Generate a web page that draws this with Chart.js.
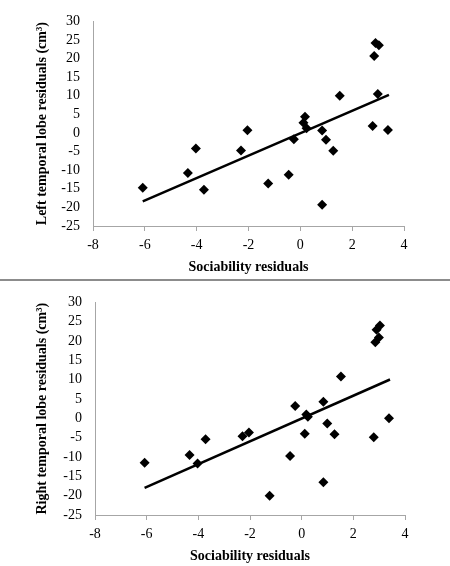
<!DOCTYPE html>
<html>
<head>
<meta charset="utf-8">
<script src="https://cdn.jsdelivr.net/npm/chart.js@4.4.1/dist/chart.umd.min.js"></script>
<style>
    html, body { margin: 0; padding: 0; background: #fff; }
    body { width: 450px; height: 566px; overflow: hidden; }
    .panel { position: relative; width: 450px; }
    .separator { width: 450px; height: 2px; background: #8c8c8c; }
    canvas { display: block; }
</style>
</head>
<body>
<div class="panel"><canvas id="leftChart" width="450" height="279"></canvas></div>
<div class="separator"></div>
<div class="panel"><canvas id="rightChart" width="450" height="285"></canvas></div>

<script>
// Sociability residuals (same subjects in both panels)
const sociability = [-6.08, -4.34, -4.03, -3.72, -2.29, -2.04, -1.24, -0.45, -0.25, 0.12, 0.18, 0.24,
    0.84, 0.84, 0.99, 1.27, 1.52, 2.79, 2.85, 2.90, 2.99, 3.03, 3.38];

// Temporal lobe residuals (cm3)
const leftLobe = [-14.7, -10.75, -4.2, -15.25, -4.7, 0.75, -13.6, -11.2, -1.65, 2.75, 4.4, 1.25,
    0.7, -19.3, -1.8, -4.8, 10.0, 1.9, 20.7, 24.2, 10.5, 23.6, 0.8];
const rightLobe = [-11.5, -9.5, -11.7, -5.4, -4.6, -3.65, -20.0, -9.75, 3.2, -4.0, 1.0, 0.4,
    4.3, -16.5, -1.3, -4.1, 10.8, -4.9, 19.7, 22.9, 20.9, 24.0, 0.0];

// Trend line end points
const trendX = [-6.08, 3.42];
const trendLeft = [-18.4, 10.25];
const trendRight = [-18.0, 10.05];

// Axis ticks
const xTicks = [-8, -6, -4, -2, 0, 2, 4];
const yTicks = [-25, -20, -15, -10, -5, 0, 5, 10, 15, 20, 25, 30];

document.addEventListener('DOMContentLoaded', function() {
    Chart.defaults.font.family = '"Liberation Serif", "Times New Roman", serif';
    Chart.defaults.color = '#000';

    const axisColor = '#a6a6a6';

    function toPoints(xs, ys) {
        return xs.map((x, i) => ({ x: x, y: ys[i] }));
    }

    function makeChart(canvasId, values, trend, yTitle, box) {
        const ctx = document.getElementById(canvasId).getContext('2d');
        return new Chart(ctx, {
            type: 'scatter',
            data: {
                datasets: [{
                    data: toPoints(trendX, trend),
                    showLine: true,
                    borderColor: '#000',
                    borderWidth: 2.5,
                    pointRadius: 0
                }, {
                    data: toPoints(sociability, values),
                    pointStyle: 'rectRot',
                    pointRadius: 5,
                    backgroundColor: '#000',
                    borderWidth: 0
                }]
            },
            options: {
                responsive: false,
                animation: false,
                layout: { padding: { top: box.top, right: box.right, left: 0, bottom: 0 } },
                plugins: {
                    legend: { display: false },
                    tooltip: { enabled: false }
                },
                scales: {
                    x: {
                        type: 'linear',
                        min: xTicks[0],
                        max: xTicks[xTicks.length - 1],
                        afterBuildTicks: s => { s.ticks = xTicks.map(v => ({ value: v })); },
                        afterFit: s => { s.height = box.xHeight; },
                        ticks: { font: { size: 14 }, padding: 6, autoSkip: false, maxRotation: 0 },
                        grid: { drawOnChartArea: false, drawTicks: true, tickLength: 5, color: axisColor },
                        border: { color: axisColor, width: 1 },
                        title: {
                            display: true,
                            text: 'Sociability residuals',
                            font: { size: 14, weight: 'bold' },
                            padding: { top: 0, bottom: box.xTitlePad }
                        }
                    },
                    y: {
                        type: 'linear',
                        min: yTicks[0],
                        max: yTicks[yTicks.length - 1],
                        afterBuildTicks: s => { s.ticks = yTicks.map(v => ({ value: v })); },
                        afterFit: s => { s.width = box.yWidth; },
                        ticks: { font: { size: 14 }, padding: 13, autoSkip: false },
                        grid: { display: false, drawTicks: false },
                        border: { color: axisColor, width: 1 },
                        title: {
                            display: true,
                            text: yTitle,
                            font: { size: 14, weight: 'bold' },
                            padding: { top: 34, bottom: 0 }
                        }
                    }
                }
            }
        });
    }

    makeChart('leftChart', leftLobe, trendLeft, 'Left temporal lobe residuals (cm\u00b3)',
        { top: 7, right: 46, xHeight: 53, yWidth: 93, xTitlePad: 3 });
    makeChart('rightChart', rightLobe, trendRight, 'Right temporal lobe residuals (cm\u00b3)',
        { top: 8, right: 45, xHeight: 51, yWidth: 95, xTitlePad: 1 });
});
</script>
</body>
</html>
